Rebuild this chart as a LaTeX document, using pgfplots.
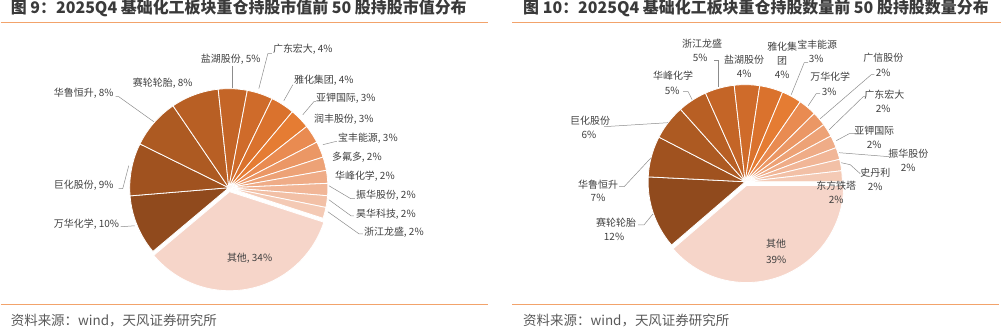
\documentclass[border=0pt]{standalone}
\usepackage{fontspec}
\setmainfont{Noto Sans CJK SC}
\usepackage{pgfplots}
\usepackage{pgfplotstable}
\pgfplotsset{compat=1.18}

\definecolor{c1}{HTML}{904A1D}
\definecolor{c2}{HTML}{A0521F}
\definecolor{c3}{HTML}{AD5A22}
\definecolor{c4}{HTML}{B85F24}
\definecolor{c5}{HTML}{C46527}
\definecolor{c6}{HTML}{CF6B2A}
\definecolor{c7}{HTML}{DA722D}
\definecolor{c8}{HTML}{E57C33}
\definecolor{c9}{HTML}{E98B51}
\definecolor{c10}{HTML}{EB9765}
\definecolor{c11}{HTML}{EDA276}
\definecolor{c12}{HTML}{EFAC87}
\definecolor{c13}{HTML}{F1B697}
\definecolor{c14}{HTML}{F2C0A6}
\definecolor{c15}{HTML}{F4CAB5}
\definecolor{c16}{HTML}{F6D5C9}
\definecolor{labtext}{HTML}{404040}
\definecolor{titletext}{HTML}{3A3A3A}
\definecolor{srctext}{HTML}{595959}
\definecolor{rule}{HTML}{F2A36B}
\definecolor{leadc}{HTML}{8C8C8C}
\tikzset{leader/.style={draw=leadc, line width=0.5pt}}

% market-value share (%) of top-50 holdings, clockwise
\pgfplotstableread[col sep=comma]{
name,value,col,off
万华化学,9.8,c1,0
巨化股份,8.6,c2,0
华鲁恒升,8.2,c3,0
赛轮轮胎,7.8,c4,0
盐湖股份,4.7,c5,0
广东宏大,4.2,c6,0
雅化集团,3.9,c7,0
亚钾国际,3.3,c8,0
润丰股份,3.0,c9,0
宝丰能源,2.6,c10,0
多氟多,2.2,c11,0
华峰化学,2.1,c12,0
振华股份,2.0,c13,0
昊华科技,1.9,c14,0
浙江龙盛,1.8,c15,0
其他,33.9,c16,4
}\leftdata

% holding-count share (%) of top-50 holdings, clockwise
\pgfplotstableread[col sep=comma]{
name,value,col,off
赛轮轮胎,12.1,c1,0
华鲁恒升,6.8,c2,0
巨化股份,5.8,c3,0
华峰化学,4.9,c4,0
浙江龙盛,4.9,c5,0
盐湖股份,4.2,c6,0
雅化集团,3.9,c7,0
宝丰能源,3.3,c8,0
万华化学,3.0,c9,0
广信股份,2.4,c10,0
广东宏大,2.2,c11,0
亚钾国际,2.1,c12,0
振华股份,2.0,c13,0
史丹利,1.9,c14,0
东方铁塔,1.8,c15,0
其他,38.7,c16,4
}\rightdata

% one wedge: value, colour, explode offset; uses \pcx \pcy \pR \curang
\newcommand{\pieslice}[3]{%
  \pgfmathsetmacro\aA{\curang}%
  \pgfmathsetmacro\aB{\curang-#1*3.6}%
  \xdef\curang{\aB}%
  \pgfmathsetmacro\am{(\aA+\aB)/2}%
  \pgfmathsetmacro\sx{\pcx+#3*cos(\am)}%
  \pgfmathsetmacro\sy{\pcy-#3*sin(\am)}%
  \edef\tmp{\noexpand\addplot[fill=#2, draw=white, line width=0.8pt, line join=round,
     domain=\aB:\aA, samples=80, variable=\noexpand\t, forget plot]
     ({\sx+\pR*cos(\noexpand\t)}, {\sy-\pR*sin(\noexpand\t)}) -- (axis cs:\sx,\sy) -- cycle;}%
  \tmp}

\newcommand{\drawpie}[1]{%
  \pgfplotstablegetrowsof{#1}%
  \pgfmathtruncatemacro\N{\pgfplotsretval-1}%
  \pgfplotsforeachungrouped \i in {0,...,\N}{%
    \pgfplotstablegetelem{\i}{value}\of#1\let\vv\pgfplotsretval
    \pgfplotstablegetelem{\i}{col}\of#1\let\cc\pgfplotsretval
    \pgfplotstablegetelem{\i}{off}\of#1\let\oo\pgfplotsretval
    \pieslice{\vv}{\cc}{\oo}%
  }}

\newcommand{\lab}[3]{\node[anchor=west, inner sep=0pt, font=\fontsize{10}{12}\selectfont, text=labtext] at (axis cs:#1,#2) {#3};}
\newcommand{\rl}[3]{\node[anchor=center, inner sep=0pt, font=\fontsize{10}{12}\selectfont, text=labtext] at (axis cs:#1,#2) {#3};}

\begin{document}
\begin{tikzpicture}
\begin{axis}[
  at={(0,0)}, anchor=south west,
  width=1002bp, height=351bp, scale only axis,
  xmin=0, xmax=1002, ymin=0, ymax=351, y dir=reverse,
  hide axis, clip=false,
]
% ---------- left pie ----------
\def\pcx{228}\def\pcy{196}\def\pR{99}\xdef\curang{220}
\drawpie{\leftdata}
% ---------- right pie ----------
\def\pcx{744}\def\pcy{190}\def\pR{97}\xdef\curang{220.7}
\drawpie{\rightdata}

% titles and rules
\node[anchor=west, inner sep=0pt, font=\fontsize{16}{18}\selectfont\bfseries, text=titletext] at (axis cs:10,17) {图 9：2025Q4 基础化工板块重仓持股市值前 50 股持股市值分布};
\node[anchor=west, inner sep=0pt, font=\fontsize{16}{18}\selectfont\bfseries, text=titletext] at (axis cs:522,17) {图 10：2025Q4 基础化工板块重仓持股数量前 50 股持股数量分布};
\draw[rule, line width=1.3pt] (axis cs:0,31) -- (axis cs:487,31);
\draw[rule, line width=1.3pt] (axis cs:511,31) -- (axis cs:1000,31);
\draw[rule, line width=1.3pt] (axis cs:0,313) -- (axis cs:487,313);
\draw[rule, line width=1.3pt] (axis cs:511,313) -- (axis cs:998,313);
\node[anchor=west, inner sep=0pt, font=\fontsize{13.5}{15}\selectfont, text=srctext] at (axis cs:10,329) {资料来源：wind，天风证券研究所};
\node[anchor=west, inner sep=0pt, font=\fontsize{13.5}{15}\selectfont, text=srctext] at (axis cs:522,329) {资料来源：wind，天风证券研究所};

% left leaders
\draw[leader] (axis cs:258,97) -- (axis cs:267,62) -- (axis cs:271,62);
\draw[leader] (axis cs:231,96) -- (axis cs:231,74);
\draw[leader] (axis cs:115,105) -- (axis cs:118,105) -- (axis cs:153,130);
\draw[leader] (axis cs:118,197) -- (axis cs:122,197) -- (axis cs:128,174);
\draw[leader] (axis cs:120,235) -- (axis cs:134,234);
\draw[leader] (axis cs:283,109) -- (axis cs:292,93);
\draw[leader] (axis cs:302,123) -- (axis cs:313,110) -- (axis cs:315,110);
\draw[leader] (axis cs:322,153) -- (axis cs:334,150) -- (axis cs:336,150);
\draw[leader] (axis cs:328,194) -- (axis cs:350,207) -- (axis cs:354,207);
\draw[leader] (axis cs:328,208) -- (axis cs:350,224) -- (axis cs:353,224);
\draw[leader] (axis cs:327,220) -- (axis cs:358,242) -- (axis cs:362,242);
% left labels
\lab{272}{58}{广东宏大, 4\%}
\lab{200}{68}{盐湖股份, 5\%}
\lab{132}{92}{赛轮轮胎, 8\%}
\lab{53}{102}{华鲁恒升, 8\%}
\lab{53}{194}{巨化股份, 9\%}
\lab{53}{232}{万华化学, 10\%}
\lab{293}{89}{雅化集团, 4\%}
\lab{315}{107}{亚钾国际, 3\%}
\lab{313}{128}{润丰股份, 3\%}
\lab{337}{147}{宝丰能源, 3\%}
\lab{331}{166}{多氟多, 2\%}
\lab{334}{184}{华峰化学, 2\%}
\lab{355}{204}{振华股份, 2\%}
\lab{355}{222}{昊华科技, 2\%}
\lab{363}{240}{浙江龙盛, 2\%}
\lab{226}{266}{其他, 34\%}

% right leaders
\draw[leader] (axis cs:717,95) -- (axis cs:717,69) -- (axis cs:713,69);
\draw[leader] (axis cs:682,100) -- (axis cs:687,100) -- (axis cs:691,108);
\draw[leader] (axis cs:603,135) -- (axis cs:667,131);
\draw[leader] (axis cs:618,195) -- (axis cs:623,195) -- (axis cs:650,166);
\draw[leader] (axis cs:637,233) -- (axis cs:643,233) -- (axis cs:652,222);
\draw[leader] (axis cs:790,103) -- (axis cs:803,71) -- (axis cs:807,71);
\draw[leader] (axis cs:807,114) -- (axis cs:815,102) -- (axis cs:819,102);
\draw[leader] (axis cs:819,127) -- (axis cs:870,83) -- (axis cs:873,83);
\draw[leader] (axis cs:828,138) -- (axis cs:862,105) -- (axis cs:864,105);
\draw[leader] (axis cs:835,149) -- (axis cs:848,142) -- (axis cs:854,142);
\draw[leader] (axis cs:838,161) -- (axis cs:888,165);
\draw[leader] (axis cs:840,171) -- (axis cs:849,173) -- (axis cs:859,182);
% right labels
\rl{701}{52}{浙江龙盛}\rl{699}{66}{5\%}
\rl{743}{68}{盐湖股份}\rl{743}{82}{4\%}
\rl{672}{84}{华峰化学}\rl{671}{99}{5\%}
\rl{589}{129}{巨化股份}\rl{588}{143}{6\%}
\rl{597}{193}{华鲁恒升}\rl{597}{206}{7\%}
\rl{615}{231}{赛轮轮胎}\rl{613}{245}{12\%}
\rl{781}{55}{雅化集}\rl{781}{69}{团}\rl{781}{83}{4\%}
\rl{816}{53}{宝丰能源}\rl{815}{67}{3\%}
\rl{829}{85}{万华化学}\rl{828}{100}{3\%}
\rl{882}{66}{广信股份}\rl{882}{81}{2\%}
\rl{883}{103}{广东宏大}\rl{882}{117}{2\%}
\rl{873}{139}{亚钾国际}\rl{873}{153}{2\%}
\rl{907}{162}{振华股份}\rl{907}{176}{2\%}
\rl{874}{181}{史丹利}\rl{874}{195}{2\%}
\rl{835}{194}{东方铁塔}\rl{835}{208}{2\%}
\rl{775}{252}{其他}\rl{775}{268}{39\%}
\end{axis}
\end{tikzpicture}
\end{document}
